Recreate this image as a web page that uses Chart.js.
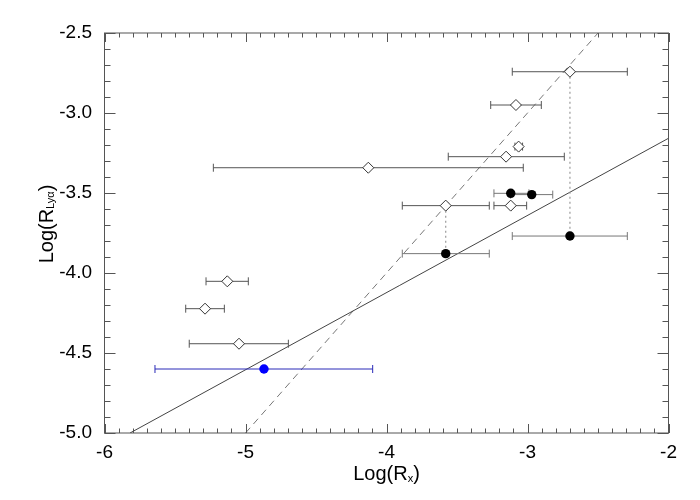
<!DOCTYPE html>
<html>
<head>
<meta charset="utf-8">
<script src="https://cdn.jsdelivr.net/npm/chart.js@4.4.0/dist/chart.umd.min.js"></script>
<style>
    html, body { margin: 0; padding: 0; background: #fff; }
</style>
</head>
<body>
<canvas id="myChart" width="700" height="500"></canvas>
<script>

//open diamonds: value, plus left/right end of the x error bar
const diamondX   = [-4.129, -2.699, -3.082, -3.063, -3.152, -3.580, -3.119, -5.129, -5.287, -5.046];
const diamondY   = [-3.342, -2.742, -2.950, -3.210, -3.273, -3.579, -3.579, -4.052, -4.223, -4.442];
const diamondXlo = [-5.228, -3.108, -3.261, -3.089, -3.562, -3.888, -3.238, -5.280, -5.424, -5.399];
const diamondXhi = [-3.030, -2.292, -2.902, -3.035, -2.739, -3.271, -3.006, -4.980, -5.150, -4.696];

//filled black dots
const dotX   = [-3.119, -2.970, -2.699, -3.580];
const dotY   = [-3.502, -3.510, -3.769, -3.879];
const dotXlo = [-3.238, -3.120, -3.108, -3.888];
const dotXhi = [-2.990, -2.821, -2.292, -3.271];

//blue dot
const blueX   = [-4.869];
const blueY   = [-4.600];
const blueXlo = [-5.642];
const blueXhi = [-4.098];

//fitted line (solid) and 1:1 line (dashed)
const fitX = [-5.819, -2.0];
const fitY = [-5.0, -3.158];
const oneX = [-5.0, -2.5];
const oneY = [-5.0, -2.5];

//dotted links: diamond index -> dot index
const linkDiamond = [1, 5];
const linkDot     = [2, 3];

//axis ranges and tick labels
const xTicks = [-6, -5, -4, -3, -2];
const yTicks = [-5.0, -4.5, -4.0, -3.5, -3.0, -2.5];


function toPoints(xs, ys) {
    return xs.map((x, i) => ({ x: x, y: ys[i] }));
}

//one small line dataset per error bar, caps drawn as rotated 'line' points
function errorBars(xs, ys, lo, hi, color) {
    return xs.map((x, i) => ({
        data: [{ x: lo[i], y: ys[i] }, { x: hi[i], y: ys[i] }],
        showLine: true,
        borderColor: color,
        borderWidth: 1,
        pointStyle: 'line',
        pointRotation: 90,
        pointRadius: 4,
        pointBorderColor: color,
        pointBorderWidth: 1,
        order: 5
    }));
}

let datasets = [];

datasets.push({
    data: toPoints(fitX, fitY),
    showLine: true, borderColor: '#444', borderWidth: 1, pointRadius: 0, order: 9
});
datasets.push({
    data: toPoints(oneX, oneY),
    showLine: true, borderColor: '#777', borderWidth: 1, borderDash: [7, 5], pointRadius: 0, order: 9
});
linkDiamond.forEach((d, i) => {
    let k = linkDot[i];
    datasets.push({
        data: [{ x: diamondX[d], y: diamondY[d] }, { x: dotX[k], y: dotY[k] }],
        showLine: true, borderColor: '#999', borderWidth: 1.2, borderDash: [2, 3], pointRadius: 0, order: 8
    });
});

datasets = datasets.concat(errorBars(diamondX, diamondY, diamondXlo, diamondXhi, '#555'));
datasets = datasets.concat(errorBars(dotX, dotY, dotXlo, dotXhi, '#777'));
datasets = datasets.concat(errorBars(blueX, blueY, blueXlo, blueXhi, '#2a2ab8'));

datasets.push({
    data: toPoints(diamondX, diamondY),
    pointStyle: 'rectRot', pointRadius: 5.5,
    backgroundColor: '#fff', borderColor: '#333', borderWidth: 1, order: 1
});
datasets.push({
    data: toPoints(dotX, dotY),
    pointStyle: 'circle', pointRadius: 4.7,
    backgroundColor: '#000', borderColor: '#000', borderWidth: 0, order: 0
});
datasets.push({
    data: toPoints(blueX, blueY),
    pointStyle: 'circle', pointRadius: 4.7,
    backgroundColor: '#0000ff', borderColor: '#0000ff', borderWidth: 0, order: 0
});


//inward major/minor ticks on all four sides plus the frame
const frameTicks = {
    id: 'frameTicks',
    afterDraw(chart) {
        const ctx = chart.ctx;
        const a = chart.chartArea;
        const xs = chart.scales.x;
        const ys = chart.scales.y;
        ctx.save();
        ctx.strokeStyle = '#555';
        ctx.lineWidth = 1;
        ctx.strokeRect(a.left, a.top, a.right - a.left, a.bottom - a.top);
        ctx.beginPath();
        for (let i = 0; i <= 40; i++) {
            let v = xs.min + i * 0.1;
            let px = Math.round(xs.getPixelForValue(v)) + 0.5;
            let len = (i % 10 === 0) ? 9 : 4.5;
            ctx.moveTo(px, a.bottom); ctx.lineTo(px, a.bottom - len);
            ctx.moveTo(px, a.top); ctx.lineTo(px, a.top + len);
        }
        for (let i = 0; i <= 25; i++) {
            let v = ys.min + i * 0.1;
            let py = Math.round(ys.getPixelForValue(v)) + 0.5;
            let len = (i % 5 === 0) ? 11 : 6;
            ctx.moveTo(a.left, py); ctx.lineTo(a.left + len, py);
            ctx.moveTo(a.right, py); ctx.lineTo(a.right - len, py);
        }
        ctx.stroke();
        ctx.restore();
    }
};

//axis titles with subscripts
const axisTitles = {
    id: 'axisTitles',
    afterDraw(chart) {
        const ctx = chart.ctx;
        const a = chart.chartArea;
        const big = '20px "Liberation Sans", Arial, sans-serif';
        const small = '11px "Liberation Sans", Arial, sans-serif';
        ctx.save();
        ctx.fillStyle = '#000';
        ctx.textBaseline = 'alphabetic';

        function drawSub(main, sub, close, cx, baseY, subDrop) {
            ctx.font = big;
            let w1 = ctx.measureText(main).width;
            let w3 = ctx.measureText(close).width;
            ctx.font = small;
            let w2 = ctx.measureText(sub).width;
            let x0 = cx - (w1 + w2 + w3) / 2;
            ctx.font = big;
            ctx.textAlign = 'left';
            ctx.fillText(main, x0, baseY);
            ctx.font = small;
            ctx.fillText(sub, x0 + w1, baseY + subDrop);
            ctx.font = big;
            ctx.fillText(close, x0 + w1 + w2, baseY);
        }

        //x title
        drawSub('Log(R', 'x', ')', (a.left + a.right) / 2, 480, 2);

        //y title, rotated
        ctx.translate(53, (a.top + a.bottom) / 2 - 9);
        ctx.rotate(-Math.PI / 2);
        drawSub('Log(R', 'Lyα', ')', 0, 0, 1);
        ctx.restore();
    }
};


let ctx = document.getElementById('myChart').getContext('2d');

let myChart = new Chart(ctx, {
    type: 'scatter',
    data: { datasets: datasets },
    options: {
        responsive: false,
        animation: false,
        events: [],
        layout: { padding: { top: 33, right: 31.5, left: 0, bottom: 0 } },
        plugins: {
            legend: { display: false },
            tooltip: { enabled: false }
        },
        scales: {
            x: {
                type: 'linear',
                min: xTicks[0],
                max: xTicks[xTicks.length - 1],
                afterFit: (scale) => { scale.height = 67; },
                afterBuildTicks: (scale) => { scale.ticks = xTicks.map(v => ({ value: v })); },
                grid: { display: false },
                border: { display: false },
                ticks: {
                    padding: 0,
                    color: '#000',
                    font: { family: '"Liberation Sans", Arial, sans-serif', size: 19 },
                    maxRotation: 0,
                    callback: (v) => String(v)
                }
            },
            y: {
                type: 'linear',
                min: yTicks[0],
                max: yTicks[yTicks.length - 1],
                afterFit: (scale) => { scale.width = 104.5; },
                afterBuildTicks: (scale) => { scale.ticks = yTicks.map(v => ({ value: v })); },
                grid: { display: false },
                border: { display: false },
                ticks: {
                    padding: 4.5,
                    color: '#000',
                    font: { family: '"Liberation Sans", Arial, sans-serif', size: 19 },
                    callback: (v) => Number(v).toFixed(1)
                }
            }
        }
    },
    plugins: [frameTicks, axisTitles]
});
</script>
</body>
</html>
